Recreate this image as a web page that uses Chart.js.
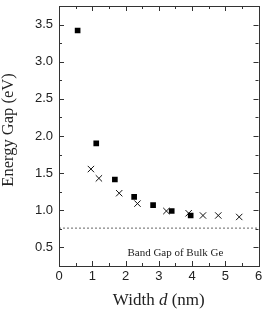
<!DOCTYPE html>
<html>
<head>
<meta charset="utf-8">
<script src="https://cdn.jsdelivr.net/npm/chart.js@4.4.0/dist/chart.umd.min.js"></script>
<style>
  html, body { margin: 0; padding: 0; background: #fff; }
  #wrap { width: 264px; height: 309px; }
</style>
</head>
<body>
<div id="wrap"><canvas id="gapChart"></canvas></div>
<script>
/* Energy gap vs. width, Ge. */
const squareWidth = [0.56, 1.12, 1.68, 2.26, 2.83, 3.39, 3.96];
const squareGap   = [3.42, 1.90, 1.415, 1.18, 1.07, 0.99, 0.93];
const crossWidth  = [0.96, 1.20, 1.81, 2.36, 3.23, 3.90, 4.33, 4.79, 5.42];
const crossGap    = [1.555, 1.43, 1.23, 1.09, 0.99, 0.96, 0.93, 0.93, 0.91];
const bulkGap = 0.76;
const xTicks = [0, 1, 2, 3, 4, 5, 6];
const yTicks = [0.5, 1.0, 1.5, 2.0, 2.5, 3.0, 3.5];

const serif = '"Liberation Serif", "Times New Roman", serif';
const sans = '"Liberation Sans", Arial, sans-serif';

const pts = (xs, ys) => xs.map((x, i) => ({ x: x, y: ys[i] }));

// inward ticks on all four sides, plus the axis titles and the note
const frame = {
    id: 'frame',
    afterDraw(chart) {
        const c = chart.ctx, a = chart.chartArea;
        const xs = chart.scales.x, ys = chart.scales.y;
        c.save();
        c.strokeStyle = '#333';
        c.lineWidth = 1;
        c.strokeRect(Math.round(a.left) + 0.5, Math.round(a.top) + 0.5,
                     Math.round(a.right - a.left), Math.round(a.bottom - a.top));
        c.beginPath();
        for (let v = 0; v <= 6.001; v += 0.5) {
            const px = Math.round(xs.getPixelForValue(v)) + 0.5;
            const len = Number.isInteger(v) ? 5 : 3;
            c.moveTo(px, a.bottom); c.lineTo(px, a.bottom - len);
            c.moveTo(px, a.top); c.lineTo(px, a.top + len);
        }
        for (let v = 0.5; v <= 3.5001; v += 0.25) {
            const py = Math.round(ys.getPixelForValue(v)) + 0.5;
            const len = Math.abs(v * 2 - Math.round(v * 2)) < 1e-6 ? 5 : 3;
            c.moveTo(a.left, py); c.lineTo(a.left + len, py);
            c.moveTo(a.right, py); c.lineTo(a.right - len, py);
        }
        c.stroke();

        // x title: "Width d (nm)" with italic d
        c.fillStyle = '#222';
        c.textBaseline = 'alphabetic';
        const parts = [['Width ', 'normal'], ['d', 'italic'], [' (nm)', 'normal']];
        let total = 0;
        parts.forEach(p => { c.font = p[1] + ' 17px ' + serif; total += c.measureText(p[0]).width; });
        let x = (a.left + a.right) / 2 - total / 2;
        parts.forEach(p => {
            c.font = p[1] + ' 17px ' + serif;
            c.fillText(p[0], x, 305);
            x += c.measureText(p[0]).width;
        });

        // y title
        c.save();
        c.translate(9, 130);
        c.rotate(-Math.PI / 2);
        c.font = '16.5px ' + serif;
        c.textAlign = 'center';
        c.textBaseline = 'middle';
        c.fillText('Energy Gap (eV)', 0, 0);
        c.restore();

        // note under the dotted line
        c.font = '11px ' + serif;
        c.textAlign = 'center';
        c.textBaseline = 'middle';
        c.fillText('Band Gap of Bulk Ge', xs.getPixelForValue(3.5), ys.getPixelForValue(0.43));
        c.restore();
    }
};

new Chart(document.getElementById('gapChart'), {
    type: 'scatter',
    data: {
        datasets: [
            {
                label: 'squares',
                data: pts(squareWidth, squareGap),
                pointStyle: 'rect',
                pointRadius: 4,
                backgroundColor: '#000',
                borderColor: '#000',
                borderWidth: 0,
            },
            {
                label: 'crosses',
                data: pts(crossWidth, crossGap),
                pointStyle: 'crossRot',
                pointRadius: 4.5,
                borderColor: '#111',
                borderWidth: 1,
            },
            {
                label: 'bulk',
                type: 'line',
                data: [{ x: 0, y: bulkGap }, { x: 6, y: bulkGap }],
                borderColor: '#666',
                borderWidth: 1,
                borderDash: [2, 2],
                pointRadius: 0,
            },
        ],
    },
    options: {
        responsive: true,
        maintainAspectRatio: false,
        animation: false,
        layout: { padding: { top: 6, right: 2, left: 0, bottom: 0 } },
        plugins: { legend: { display: false }, tooltip: { enabled: false } },
        scales: {
            x: {
                type: 'linear',
                min: 0, max: 6,
                grid: { display: false, drawTicks: false },
                border: { display: false },
                afterBuildTicks: s => { s.ticks = xTicks.map(v => ({ value: v })); },
                ticks: { color: '#222', font: { family: sans, size: 13 }, padding: 3, maxRotation: 0 },
                afterFit: s => { s.height = 43; s.paddingLeft = 0; s.paddingRight = 0; },
            },
            y: {
                type: 'linear',
                min: 0.25, max: 3.75,
                grid: { display: false, drawTicks: false },
                border: { display: false },
                afterBuildTicks: s => { s.ticks = yTicks.map(v => ({ value: v })); },
                ticks: {
                    color: '#222', font: { family: sans, size: 13 }, padding: 6,
                    callback: v => v.toFixed(1),
                },
                afterFit: s => { s.width = 59; s.paddingTop = 0; s.paddingBottom = 0; },
            },
        },
    },
    plugins: [frame],
});
</script>
</body>
</html>
